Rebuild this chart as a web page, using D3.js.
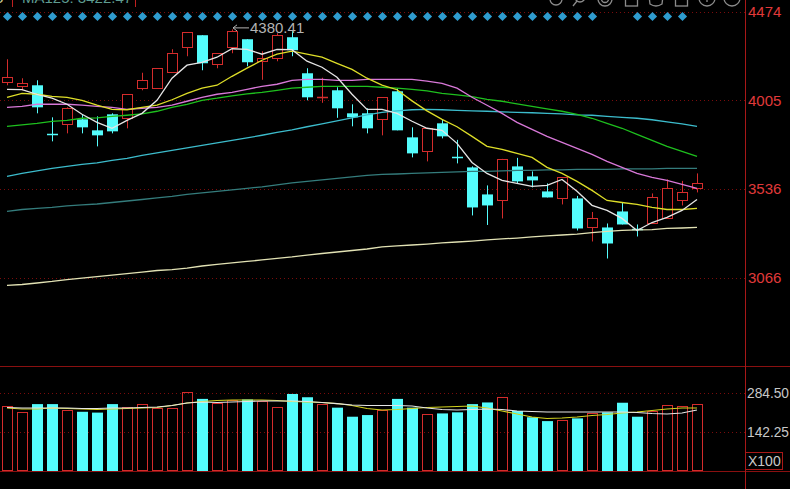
<!DOCTYPE html>
<html>
<head>
<meta charset="utf-8">
<script src="https://cdn.jsdelivr.net/npm/d3@7"></script>
<style>
  html, body { margin: 0; background: #000; overflow: hidden; }
  svg { display: block; font-family: Arial, "Liberation Sans", sans-serif; }
</style>
</head>
<body>
<svg id="chart" width="790" height="489"></svg>
<script>
/** daily candles, oldest first */
const open = [4100.4, 4079.2, 4084.5, 3827.4, 3877.8, 3904.3, 3846.0, 3930.8, 3909.6, 4068.6, 4068.6, 4158.7, 4285.9, 4349.5, 4195.8, 4285.9, 4328.3, 4211.7, 4227.6, 4338.9, 4148.1, 4018.3, 4058.0, 3936.1, 3936.1, 3904.3, 4052.7, 3808.9, 3734.7, 3883.1, 3705.6, 3649.9, 3506.8, 3477.7, 3655.2, 3602.2, 3522.7, 3488.3, 3485.6, 3337.2, 3331.9, 3416.7, 3324.0, 3355.7, 3379.6, 3475.0, 3541.2];
const high = [4222.3, 4121.6, 4111.0, 3914.9, 3967.9, 3928.2, 3920.2, 3936.1, 4036.8, 4150.8, 4174.6, 4275.3, 4365.4, 4349.5, 4254.1, 4380.41, 4328.3, 4264.7, 4360.1, 4370.7, 4174.6, 4124.3, 4073.9, 3983.8, 3962.6, 4020.9, 4068.6, 3861.9, 3856.6, 3904.3, 3795.7, 3655.2, 3554.5, 3695.0, 3700.3, 3628.7, 3565.1, 3596.9, 3498.9, 3414.0, 3353.1, 3464.4, 3347.8, 3512.1, 3586.3, 3578.4, 3618.1];
const low = [4084.5, 4058.0, 3936.1, 3787.7, 3830.1, 3830.1, 3761.2, 3830.1, 3856.6, 4058.0, 4065.9, 4158.7, 4238.2, 4164.0, 4174.6, 4254.1, 4185.2, 4113.7, 4211.7, 4238.2, 4005.0, 3991.8, 3912.3, 3867.2, 3830.1, 3819.5, 3846.0, 3702.9, 3681.7, 3803.6, 3671.1, 3395.5, 3345.2, 3379.6, 3565.1, 3543.9, 3490.9, 3453.8, 3316.0, 3257.7, 3167.6, 3347.8, 3284.2, 3355.7, 3379.6, 3448.5, 3517.4];
const close = [4126.9, 4095.1, 3967.9, 3822.2, 3962.6, 3861.9, 3819.5, 3840.7, 4036.8, 4111.0, 4174.6, 4256.8, 4365.4, 4201.1, 4254.1, 4372.0, 4206.4, 4227.6, 4349.5, 4270.0, 4020.9, 4023.6, 3962.6, 3914.9, 3856.6, 4020.9, 3846.0, 3724.1, 3856.6, 3814.2, 3700.3, 3437.9, 3448.5, 3692.3, 3575.7, 3581.0, 3490.9, 3596.9, 3326.6, 3382.2, 3247.1, 3347.8, 3318.7, 3490.9, 3538.6, 3517.4, 3565.1];

/** volume, x100 */
const volume = [238, 216, 244, 244, 221, 216, 213, 244, 234, 244, 231, 231, 287, 263, 247, 259, 261, 255, 234, 281, 269, 244, 231, 198, 204, 222, 263, 231, 208, 210, 214, 244, 250, 271, 219, 196, 182, 186, 192, 213, 214, 249, 198, 220, 241, 237, 244];

/** moving averages */
const ma5 = [4063, 4061, 4037, 4016, 3984, 3931, 3888, 3857, 3899, 3936, 4005, 4122, 4191, 4206, 4233, 4278, 4275, 4249, 4275, 4273, 4212, 4180, 4127, 4037, 3957, 3957, 3936, 3894, 3857, 3846, 3777, 3676, 3618, 3581, 3565, 3549, 3555, 3586, 3523, 3449, 3422, 3380, 3316, 3358, 3385, 3422, 3480];
const ma10 = [4021, 4042, 4037, 4026, 4021, 4005, 3979, 3957, 3955, 3968, 3979, 4008, 4042, 4069, 4085, 4132, 4175, 4217, 4249, 4265, 4249, 4233, 4201, 4169, 4122, 4085, 4061, 4002, 3949, 3904, 3865, 3814, 3761, 3745, 3724, 3703, 3650, 3618, 3576, 3528, 3475, 3464, 3454, 3438, 3427, 3427, 3433];
const ma20 = [3968, 3973, 3984, 3984, 3984, 3979, 3973, 3968, 3957, 3963, 3968, 3979, 4000, 4021, 4037, 4047, 4063, 4079, 4090, 4111, 4116, 4116, 4111, 4111, 4116, 4116, 4116, 4116, 4106, 4095, 4069, 4021, 3979, 3936, 3888, 3851, 3814, 3782, 3751, 3719, 3682, 3650, 3618, 3597, 3581, 3560, 3539];
const ma30 = [3867, 3875, 3883, 3894, 3899, 3910, 3912, 3920, 3926, 3933, 3947, 3968, 3984, 4005, 4016, 4029, 4039, 4047, 4058, 4069, 4074, 4079, 4079, 4079, 4079, 4074, 4069, 4063, 4055, 4042, 4034, 4024, 4010, 4000, 3986, 3973, 3960, 3947, 3931, 3910, 3883, 3857, 3825, 3793, 3761, 3735, 3708];
const ma60 = [3602, 3618, 3631, 3645, 3655, 3666, 3674, 3687, 3698, 3714, 3727, 3740, 3753, 3767, 3780, 3793, 3806, 3820, 3835, 3849, 3865, 3880, 3896, 3912, 3928, 3941, 3949, 3955, 3957, 3955, 3952, 3949, 3947, 3944, 3941, 3939, 3936, 3933, 3928, 3926, 3920, 3915, 3910, 3902, 3891, 3880, 3867];
const ma125 = [3417, 3427, 3433, 3438, 3446, 3451, 3456, 3464, 3472, 3480, 3488, 3496, 3507, 3515, 3523, 3531, 3539, 3547, 3557, 3568, 3576, 3584, 3592, 3600, 3608, 3613, 3615, 3618, 3621, 3623, 3626, 3629, 3629, 3631, 3634, 3634, 3637, 3637, 3639, 3639, 3639, 3642, 3642, 3642, 3645, 3645, 3645];
const ma250 = [3025, 3030, 3038, 3046, 3056, 3064, 3072, 3080, 3088, 3096, 3104, 3109, 3117, 3128, 3136, 3144, 3152, 3160, 3168, 3176, 3186, 3194, 3202, 3210, 3218, 3229, 3234, 3239, 3244, 3250, 3255, 3260, 3266, 3271, 3276, 3282, 3287, 3292, 3297, 3305, 3311, 3316, 3319, 3321, 3327, 3329, 3332];
const volMa5 = [231.6, 229.8, 229.8, 229.8, 229.8, 228, 228, 229.8, 229.8, 231.6, 233.4, 238.9, 248, 251.6, 249.8, 251.6, 253.5, 255.3, 255.3, 255.3, 253.5, 249.8, 246.1, 240.7, 238.9, 238.9, 238.9, 237, 229.8, 224.3, 222.5, 224.3, 226.1, 224.3, 218.8, 217, 215.2, 215.2, 215.2, 215.2, 215.2, 215.2, 213.4, 209.7, 207.9, 211.5, 222.5];
const volMa10 = [229.8, 226.1, 226.1, 229.8, 228, 226.1, 224.3, 226.1, 228, 229.8, 231.6, 238.9, 248, 253.5, 257.1, 259, 259, 259, 257.1, 253.5, 251.6, 249.8, 246.1, 238.9, 228, 222.5, 224.3, 228, 231.6, 233.4, 235.2, 237, 229.8, 218.8, 207.9, 196.9, 191.5, 193.3, 196.9, 202.4, 206.1, 211.5, 215.2, 220.7, 226.1, 229.8, 229.8];

/** signal markers above the candles (1 = shown) */
const signal = [1, 1, 1, 1, 1, 1, 1, 1, 1, 1, 1, 1, 1, 1, 1, 1, 1, 1, 1, 1, 1, 1, 1, 1, 1, 1, 1, 1, 1, 1, 1, 1, 1, 1, 1, 1, 1, 1, 1, 1, 0, 0, 1, 1, 1, 1, 0];

/** axis ticks */
const priceTicks = [4474, 4005, 3536, 3066];
const volTicks = [284.5, 142.25];
const volUnit = "X100";
const maxLabel = "4380.41";
const headerText = "MA125: 3422.47";

const svg = d3.select("#chart");
const RED = "#d42c2c";
const CYAN = "#54fcfc";
const GRID = "#7a0c0c";
const plotRight = 745;

/** scales */
const x = d3.scaleLinear().domain([0, close.length - 1]).range([7, 697]);
const yPrice = d3.scaleLinear().domain([3066, 4474]).range([277.7, 11.7]);
const yVol = d3.scaleLinear().domain([0, 284.5]).range([471, 393]);
const px = (v) => Math.round(v) + 0.5;

/** dotted grid lines */
const grid = svg.append("g");
for (const t of priceTicks)
  grid.append("line")
    .attr("x1", 0).attr("x2", plotRight)
    .attr("y1", px(yPrice(t))).attr("y2", px(yPrice(t)))
    .attr("stroke", GRID).attr("stroke-dasharray", "1 3");
for (const t of volTicks)
  grid.append("line")
    .attr("x1", 0).attr("x2", plotRight)
    .attr("y1", px(yVol(t))).attr("y2", px(yVol(t)))
    .attr("stroke", GRID).attr("stroke-dasharray", "1 3");

/** panel frame */
svg.append("line").attr("x1", 0).attr("x2", 790).attr("y1", 366.5).attr("y2", 366.5).attr("stroke", "#8a1010");
svg.append("line").attr("x1", 0).attr("x2", 790).attr("y1", 471.5).attr("y2", 471.5).attr("stroke", "#8a1010");
svg.append("line").attr("x1", plotRight + 0.5).attr("x2", plotRight + 0.5).attr("y1", 0).attr("y2", 489).attr("stroke", "#a81818");

/** moving average lines */
const idx = d3.range(close.length);
const priceLine = (arr) => d3.line().x((i) => x(i)).y((i) => yPrice(arr[i]))(idx);
const volLine = (arr) => d3.line().x((i) => x(i)).y((i) => yVol(arr[i]))(idx);
const maSeries = [
  { data: ma250, color: "#e2e2b4" },
  { data: ma125, color: "#347c7c" },
  { data: ma60, color: "#3cbccc" },
  { data: ma30, color: "#1ec01e" },
  { data: ma20, color: "#d878d8" },
  { data: ma10, color: "#dede28" },
  { data: ma5, color: "#e6e6e6" },
];

/** candles */
const candles = svg.append("g");
for (const i of idx) {
  const cx = Math.round(x(i));
  const up = close[i] >= open[i];
  const yo = yPrice(open[i]), yc = yPrice(close[i]);
  const top = Math.min(yo, yc), bot = Math.max(yo, yc);
  const color = up ? RED : CYAN;
  if (bot - top < 1.5) {
    candles.append("line").attr("x1", cx + 0.5).attr("x2", cx + 0.5)
      .attr("y1", yPrice(high[i])).attr("y2", yPrice(low[i])).attr("stroke", color);
    candles.append("line").attr("x1", cx - 5).attr("x2", cx + 6)
      .attr("y1", px(top)).attr("y2", px(top)).attr("stroke", color).attr("stroke-width", 1.5);
  } else if (up) {
    candles.append("line").attr("x1", cx + 0.5).attr("x2", cx + 0.5)
      .attr("y1", yPrice(high[i])).attr("y2", top).attr("stroke", color);
    candles.append("line").attr("x1", cx + 0.5).attr("x2", cx + 0.5)
      .attr("y1", bot).attr("y2", yPrice(low[i])).attr("stroke", color);
    candles.append("rect").attr("x", cx - 4.5).attr("width", 10)
      .attr("y", px(top)).attr("height", Math.round(bot - top))
      .attr("fill", "#000").attr("stroke", color);
  } else {
    candles.append("line").attr("x1", cx + 0.5).attr("x2", cx + 0.5)
      .attr("y1", yPrice(high[i])).attr("y2", yPrice(low[i])).attr("stroke", color);
    candles.append("rect").attr("x", cx - 5).attr("width", 11)
      .attr("y", top).attr("height", bot - top).attr("fill", color);
  }
}

for (const { data, color } of maSeries)
  svg.append("path").attr("d", priceLine(data))
    .attr("fill", "none").attr("stroke", color).attr("stroke-width", 1.3);

/** signal diamonds */
const diamond = d3.symbol(d3.symbolSquare, 42);
svg.append("g").selectAll("path")
  .data(idx.filter((i) => signal[i]))
  .join("path")
  .attr("d", diamond)
  .attr("transform", (i) => `translate(${x(i) + 0.5},16.5) rotate(45)`)
  .attr("fill", "#2f9ccf");

/** highest price marker */
const hi = d3.maxIndex(high);
const hy = yPrice(high[hi]) - 1.5;
const hx = x(hi) + 1;
svg.append("path")
  .attr("d", `M${hx + 16},${hy}H${hx}M${hx + 4},${hy - 3}L${hx},${hy}L${hx + 4},${hy + 3}`)
  .attr("stroke", "#b4b4b4").attr("fill", "none");
svg.append("text").text(maxLabel)
  .attr("x", hx + 17).attr("y", hy).attr("dy", "0.36em")
  .attr("font-size", 15).attr("fill", "#b4b4b4");

/** volume bars */
const vols = svg.append("g");
for (const i of idx) {
  const cx = Math.round(x(i));
  const up = close[i] >= open[i];
  const top = yVol(volume[i]);
  if (up)
    vols.append("rect").attr("x", cx - 4.5).attr("width", 10)
      .attr("y", px(top)).attr("height", Math.round(yVol(0) - top) - 1)
      .attr("fill", "none").attr("stroke", RED);
  else
    vols.append("rect").attr("x", cx - 5).attr("width", 11)
      .attr("y", top).attr("height", yVol(0) - top).attr("fill", CYAN);
}
svg.append("path").attr("d", volLine(volMa10)).attr("fill", "none").attr("stroke", "#d2d21e").attr("stroke-width", 1.2);
svg.append("path").attr("d", volLine(volMa5)).attr("fill", "none").attr("stroke", "#e6e6e6").attr("stroke-width", 1.2);

/** right axis labels */
const labels = svg.append("g").attr("font-size", 15);
for (const t of priceTicks)
  labels.append("text").text(t).attr("x", 748).attr("y", yPrice(t)).attr("dy", "0.36em").attr("fill", "#e03a3a");
for (const t of volTicks)
  labels.append("text").text(t.toFixed(2)).attr("x", 747).attr("y", yVol(t)).attr("dy", "0.36em")
    .attr("font-size", 14).attr("textLength", 42).attr("lengthAdjust", "spacingAndGlyphs")
    .attr("fill", "#c8c8c8");
svg.append("rect").attr("x", 745.5).attr("y", 452.5).attr("width", 37).attr("height", 17)
  .attr("fill", "none").attr("stroke", "#a81818");
labels.append("text").text(volUnit).attr("x", 748).attr("y", 461).attr("dy", "0.36em")
  .attr("font-size", 14).attr("fill", "#c8c8c8");

/** header strip, cut off at the top as in the source screen */
const head = svg.append("g").attr("font-size", 15);
head.append("text").text("5").attr("x", -5).attr("y", 3).attr("fill", "#c8c890");
head.append("text").text(headerText).attr("x", 22).attr("y", 3).attr("fill", "#5e9c90");
for (const hx2 of [12.5, 135.5])
  svg.append("line").attr("x1", hx2).attr("x2", hx2).attr("y1", 0).attr("y2", 7).attr("stroke", "#c02020");

/** toolbar icons, cut off at the top */
const icons = svg.append("g").attr("fill", "none").attr("stroke", "#8c8c8c").attr("stroke-width", 1.3);
icons.append("circle").attr("cx", 556).attr("cy", -1).attr("r", 6);
icons.append("circle").attr("cx", 580).attr("cy", -3).attr("r", 5);
icons.append("line").attr("x1", 577).attr("y1", 1).attr("x2", 573).attr("y2", 6);
icons.append("circle").attr("cx", 605).attr("cy", -1).attr("r", 7);
icons.append("circle").attr("cx", 605).attr("cy", -1).attr("r", 3.5);
icons.append("rect").attr("x", 625.5).attr("y", -8).attr("width", 12).attr("height", 14);
icons.append("path").attr("d", "M649,-4 L650,4 Q656,8 662,4 L663,-4");
icons.append("rect").attr("x", 675.5).attr("y", -8).attr("width", 12).attr("height", 14);
icons.append("circle").attr("cx", 707).attr("cy", -2).attr("r", 8);
icons.append("path").attr("d", "M707,-6V2M703,-2H711");
icons.append("circle").attr("cx", 732).attr("cy", -2).attr("r", 8);
icons.append("path").attr("d", "M728,-2H736");
</script>
</body>
</html>
